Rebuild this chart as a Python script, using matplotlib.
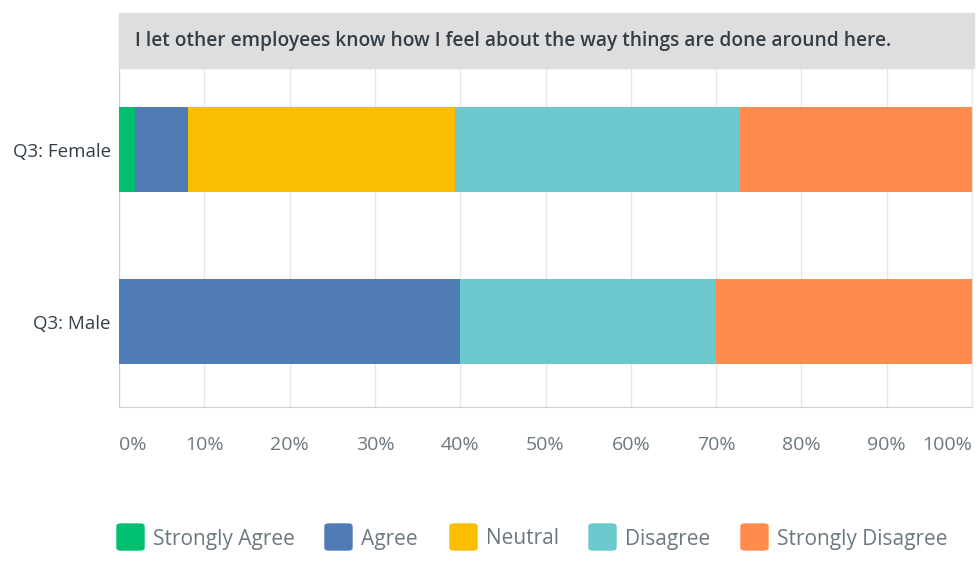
import matplotlib.pyplot as plt
from matplotlib.patches import Rectangle, FancyBboxPatch

plt.rcParams['font.family'] = ['Open Sans', 'DejaVu Sans']

groups = ['Q3: Female', 'Q3: Male']
answers = ['Strongly Agree', 'Agree', 'Neutral', 'Disagree', 'Strongly Disagree']
colors = ['#00bf6f', '#507cb6', '#f9be00', '#6bc8cd', '#ff8b4f']
# percent of answers per group
female = [1.9, 6.2, 31.3, 33.4, 27.2]
male = [0.0, 40.0, 0.0, 30.0, 30.0]
ticks = list(range(0, 101, 10))
title = 'I let other employees know how I feel about the way things are done around here.'

W, H = 980, 562
fig = plt.figure(figsize=(W / 100, H / 100), dpi=100)

# axes box in pixels
x0, x1, y_top, y_bot = 119, 972, 68, 407
ax = fig.add_axes([x0 / W, 1 - y_bot / H, (x1 - x0) / W, (y_bot - y_top) / H])

# gray title band
fig.patches.append(Rectangle((x0 / W, 1 - 68 / H), (974 - x0) / W, 55 / H,
                             transform=fig.transFigure, color='#dedede', zorder=0))
fig.text(135 / W, 1 - 41 / H, title, fontsize=13.8, fontweight='semibold',
         color='#333e48', va='center', ha='left')

rows = [female, male]
for i, vals in enumerate(rows):
    left = 0
    for v, c in zip(vals, colors):
        if v > 0:
            ax.barh(i, v, left=left, height=0.494, color=c, zorder=3)
        left += v

ax.set_xlim(0, 100)
ax.set_ylim(1.497, -0.474)
ax.set_yticks([0, 1])
ax.set_yticklabels(groups, fontsize=13.5, color='#333e48')
ax.set_xticks(ticks)
ax.set_xticklabels(['%d%%' % t for t in ticks], fontsize=14, color='#6b787f')
labs = ax.get_xticklabels()
labs[0].set_ha('left')
labs[-1].set_ha('right')
ax.tick_params(axis='both', length=0)
ax.tick_params(axis='x', pad=21)
ax.tick_params(axis='y', pad=6)
ax.grid(axis='x', color='#e6e6e6', linewidth=1, zorder=0)
ax.spines['top'].set_visible(False)
ax.spines['right'].set_color('#e6e6e6')
ax.spines['left'].set_color('#d0d0d0')
ax.spines['bottom'].set_color('#d0d0d0')

# legend along the bottom
lx = [117, 325, 450, 589, 741]
for x, c, name in zip(lx, colors, answers):
    fig.patches.append(FancyBboxPatch((x / W, 1 - 550 / H), 27 / W, 26 / H,
                                      boxstyle='round,pad=0,rounding_size=0.004',
                                      transform=fig.transFigure, color=c))
    fig.text((x + 36) / W, 1 - 539 / H, name, fontsize=15, color='#6b787f',
             va='center', ha='left')

fig.savefig('out.png', dpi=100)
